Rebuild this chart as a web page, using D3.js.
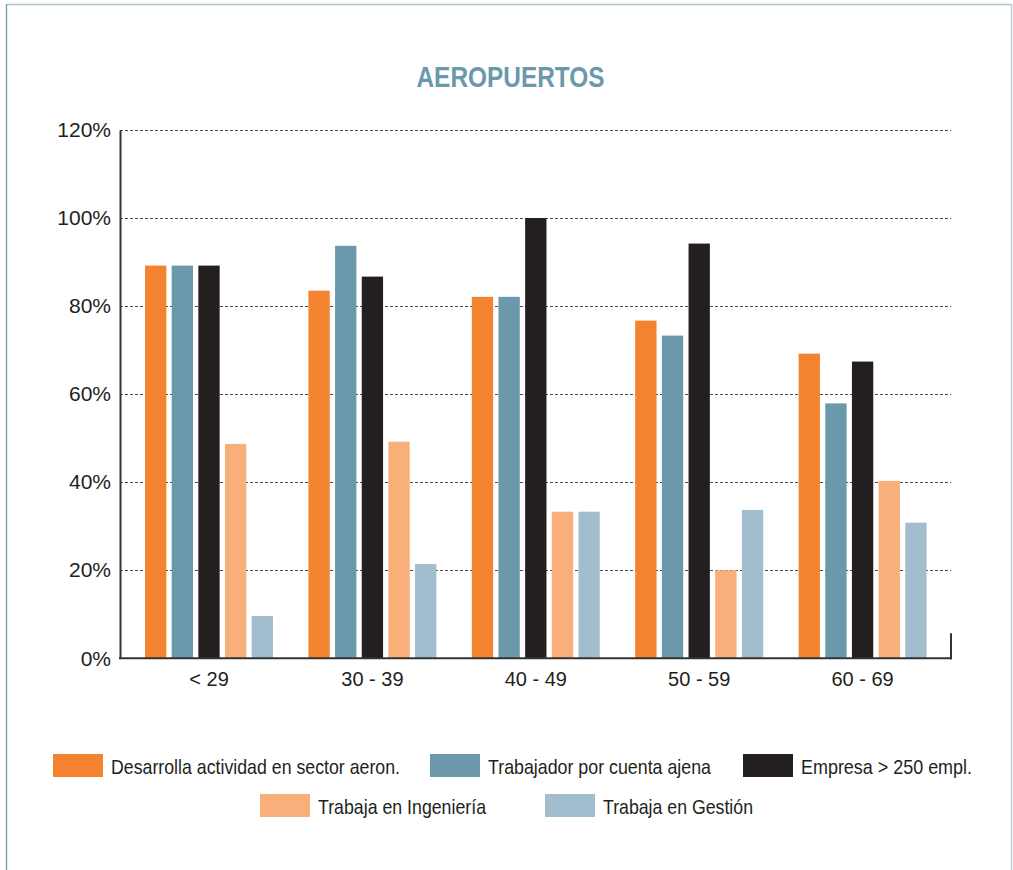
<!DOCTYPE html>
<html>
<head>
<meta charset="utf-8">
<script src="https://cdn.jsdelivr.net/npm/d3@7"></script>
<style>
  html, body { margin: 0; padding: 0; background: #fff; }
  svg { display: block; }
</style>
</head>
<body>
<svg id="chart" width="1013" height="870"></svg>
<script>
// Age groups on the x axis
const categories = ["< 29", "30 - 39", "40 - 49", "50 - 59", "60 - 69"];

// Series names, as shown in the legend
const seriesNames = [
  "Desarrolla actividad en sector aeron.",
  "Trabajador por cuenta ajena",
  "Empresa > 250 empl.",
  "Trabaja en Ingeniería",
  "Trabaja en Gestión"
];

// Percentages per age group, one array per series
const desarrolla  = [89.2, 83.5, 82.1, 76.7, 69.2];
const cuentaAjena = [89.2, 93.7, 82.1, 73.3, 57.9];
const empresa250  = [89.2, 86.7, 100,  94.2, 67.4];
const ingenieria  = [48.7, 49.2, 33.3, 20.0, 40.3];
const gestion     = [9.6,  21.4, 33.3, 33.7, 30.8];

// Y axis ticks
const yTicks = [0, 20, 40, 60, 80, 100, 120];

const seriesValues = [desarrolla, cuentaAjena, empresa250, ingenieria, gestion];
const colors = ["#F3832E", "#6B98AB", "#231F20", "#F9AF79", "#A2BDCD"];

const svg = d3.select("#chart");
const textFont = "'Liberation Sans Narrow', 'Liberation Sans', Arial, sans-serif";

// Card frame
svg.append("line").attr("x1", 6.5).attr("x2", 1011).attr("y1", 4.5).attr("y2", 4.5)
  .attr("stroke", "#A9C3CF").attr("stroke-width", 1.5);
svg.append("line").attr("x1", 6.5).attr("x2", 6.5).attr("y1", 4).attr("y2", 870)
  .attr("stroke", "#7FA3B3").attr("stroke-width", 1.5);
svg.append("line").attr("x1", 1011.5).attr("x2", 1011.5).attr("y1", 4).attr("y2", 870)
  .attr("stroke", "#B9D0DA").attr("stroke-width", 1.5);

// Title
svg.append("text")
  .attr("x", 510.5).attr("y", 87)
  .attr("text-anchor", "middle")
  .attr("font-family", textFont)
  .attr("font-weight", "bold")
  .attr("font-size", 30)
  .attr("fill", "#6B98AB")
  .attr("textLength", 188)
  .attr("lengthAdjust", "spacingAndGlyphs")
  .text("AEROPUERTOS");

// Scales
const plotLeft = 120, plotRight = 951, plotTop = 130, plotBottom = 658.3;
const y = d3.scaleLinear().domain([0, 120]).range([plotBottom, plotTop]);
const x0 = d3.scaleBand().domain(categories).range([127.3, 944.3]).paddingInner(0).paddingOuter(0);
const groupWidth = 128;
const x1 = d3.scaleBand().domain(d3.range(seriesNames.length)).range([0, groupWidth])
  .paddingInner(0.2).paddingOuter(0);

// Dashed gridlines
svg.append("g")
  .selectAll("line")
  .data(yTicks.filter(d => d > 0))
  .join("line")
  .attr("x1", plotLeft).attr("x2", plotRight)
  .attr("y1", d => Math.round(y(d)) + 0.5).attr("y2", d => Math.round(y(d)) + 0.5)
  .attr("stroke", "#4a4a4a")
  .attr("stroke-width", 1)
  .attr("stroke-dasharray", "3,2");

// Bars
const groups = svg.append("g")
  .selectAll("g")
  .data(categories)
  .join("g")
  .attr("transform", d => `translate(${x0(d) + x0.bandwidth() / 2 - groupWidth / 2},0)`);

groups.selectAll("rect")
  .data((c, ci) => seriesValues.map((vals, si) => ({ si, v: vals[ci] })))
  .join("rect")
  .attr("x", d => x1(d.si))
  .attr("width", x1.bandwidth())
  .attr("y", d => y(d.v))
  .attr("height", d => y(0) - y(d.v))
  .attr("fill", d => colors[d.si]);

// Y axis
const yAxis = svg.append("g")
  .attr("transform", `translate(${plotLeft},0)`)
  .call(d3.axisLeft(y).tickValues(yTicks).tickSize(0).tickPadding(9).tickFormat(d => d + "%"));
yAxis.select(".domain").attr("stroke", "#333").attr("stroke-width", 2);
yAxis.selectAll("text")
  .attr("font-family", "'Liberation Sans', Arial, sans-serif")
  .attr("font-size", 21)
  .attr("fill", "#231F20");

// X axis
const xAxis = svg.append("g")
  .attr("transform", `translate(0,${plotBottom})`)
  .call(d3.axisBottom(x0).tickSize(0).tickPadding(14));
xAxis.select(".domain").remove();
xAxis.append("line")
  .attr("x1", plotLeft - 1).attr("x2", plotRight + 1)
  .attr("y1", 0).attr("y2", 0)
  .attr("stroke", "#333").attr("stroke-width", 2);
xAxis.append("line")
  .attr("x1", plotRight).attr("x2", plotRight)
  .attr("y1", -25).attr("y2", 1)
  .attr("stroke", "#333").attr("stroke-width", 2);
xAxis.selectAll(".tick text")
  .attr("font-family", "'Liberation Sans', Arial, sans-serif")
  .attr("font-size", 20)
  .attr("fill", "#231F20");

// Legend
const legendItems = [
  { x: 53,  y: 754, w: 289 },
  { x: 430, y: 754, w: 223 },
  { x: 743, y: 754, w: 171 },
  { x: 260, y: 794, w: 168 },
  { x: 545, y: 794, w: 150 }
];
const legend = svg.append("g")
  .selectAll("g")
  .data(seriesNames)
  .join("g")
  .attr("transform", (d, i) => `translate(${legendItems[i].x},${legendItems[i].y})`);
legend.append("rect")
  .attr("width", 50).attr("height", 23)
  .attr("fill", (d, i) => colors[i]);
legend.append("text")
  .attr("x", 58).attr("y", 20)
  .attr("font-family", textFont)
  .attr("font-size", 21)
  .attr("fill", "#231F20")
  .attr("textLength", (d, i) => legendItems[i].w)
  .attr("lengthAdjust", "spacingAndGlyphs")
  .text(d => d);
</script>
</body>
</html>
